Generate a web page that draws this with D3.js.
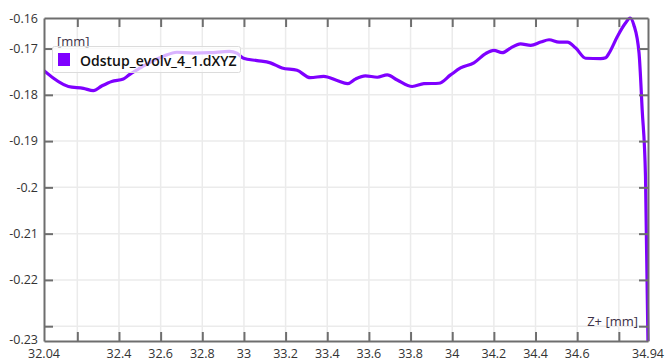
<!DOCTYPE html>
<html>
<head>
<meta charset="utf-8">
<script src="https://cdn.jsdelivr.net/npm/d3@7/dist/d3.min.js"></script>
<style>
  html, body { margin: 0; padding: 0; background: #fff; }
  svg { display: block; font-family: "Open Sans", "Noto Sans", sans-serif; }
</style>
</head>
<body>
<svg id="chart" width="667" height="358"></svg>
<script>
// Data: Z+ [mm] positions and deviation [mm]
const zValues = [32.04, 32.157, 32.229, 32.277, 32.317, 32.365, 32.421, 32.445, 32.502, 32.564,
  32.612, 32.678, 32.756, 32.838, 32.93, 32.966, 32.998, 33.063, 33.127, 33.183, 33.255,
  33.319, 33.383, 33.447, 33.497, 33.535, 33.583, 33.640, 33.688, 33.736, 33.808,
  33.864, 33.936, 33.992, 34.040, 34.104, 34.160, 34.200, 34.240, 34.280, 34.328,
  34.377, 34.425, 34.465, 34.513, 34.553, 34.593, 34.641, 34.713, 34.737, 34.753,
  34.793, 34.832, 34.854, 34.872, 34.897, 34.912, 34.928, 34.94];
const devValues = [-0.1748, -0.1782, -0.1786, -0.1791, -0.1781, -0.1771, -0.1766, -0.1758, -0.1742, -0.1726,
  -0.1717, -0.1708, -0.1710, -0.1709, -0.1706, -0.1710, -0.1721, -0.1726, -0.1731, -0.1742, -0.1747,
  -0.1763, -0.1760, -0.1769, -0.1776, -0.1766, -0.1759, -0.1762, -0.1757, -0.1768, -0.1782,
  -0.1776, -0.1775, -0.1757, -0.1742, -0.1731, -0.1711, -0.1704, -0.1709, -0.1699, -0.1690,
  -0.1693, -0.1686, -0.1681, -0.1686, -0.1686, -0.1699, -0.1721, -0.1722, -0.1720, -0.1710,
  -0.1674, -0.1645, -0.1634, -0.1649, -0.1710, -0.1832, -0.1977, -0.2340];
const seriesName = "Odstup_evolv_4_1.dXYZ";
const xDomain = [32.04, 34.94];
const yDomain = [-0.2332, -0.1634];
const xTicks = [32.2, 32.4, 32.6, 32.8, 33, 33.2, 33.4, 33.6, 33.8, 34, 34.2, 34.4, 34.6, 34.8];
const xTickLabels = ["", "32.4", "32.6", "32.8", "33", "33.2", "33.4", "33.6", "33.8", "34", "34.2", "34.4", "34.6", ""];
const xEndLabels = ["32.04", "34.94"];
const yTicks = [-0.17, -0.18, -0.19, -0.2, -0.21, -0.22, -0.23];
const yTickLabels = ["-0.17", "-0.18", "-0.19", "-0.2", "-0.21", "-0.22", ""];
const yEndLabels = ["-0.23", "-0.16"];
const yUnit = "[mm]";
const xUnit = "Z+ [mm]";

const svg = d3.select("#chart");
const L = 44, R = 648, T = 18, B = 341;
const x = d3.scaleLinear().domain(xDomain).range([L, R]);
const y = d3.scaleLinear().domain(yDomain).range([B, T]);

const axisColor = "#6e6e6e";
const textColor = "#333";

// gridlines
const grid = svg.append("g");
grid.selectAll("line.vx").data(xTicks).join("line")
  .attr("x1", d => x(d)).attr("x2", d => x(d)).attr("y1", T).attr("y2", B)
  .attr("stroke", "#ebebeb").attr("stroke-width", 1.5);
grid.selectAll("line.hy").data(yTicks).join("line")
  .attr("x1", L).attr("x2", R).attr("y1", d => y(d)).attr("y2", d => y(d))
  .attr("stroke", "#ebebeb").attr("stroke-width", 1.5);

// clip
svg.append("clipPath").attr("id", "clip").append("rect")
  .attr("x", L).attr("y", T - 2).attr("width", R - L + 2).attr("height", B - T + 2);

// line
const data = zValues.map((z, i) => [z, devValues[i]]);
svg.append("path").datum(data)
  .attr("clip-path", "url(#clip)")
  .attr("fill", "none").attr("stroke", "#7f00ff").attr("stroke-width", 3.2)
  .attr("stroke-linejoin", "round").attr("stroke-linecap", "round")
  .attr("d", d3.line().x(d => x(d[0])).y(d => y(d[1])).curve(d3.curveMonotoneX));

// axes with inside ticks
const bottomAxis = d3.axisBottom(x).tickValues(xTicks).tickSizeInner(-9).tickSizeOuter(0).tickFormat(() => "");
const topAxis = d3.axisTop(x).tickValues(xTicks).tickSizeInner(-9).tickSizeOuter(0).tickFormat(() => "");
const leftAxis = d3.axisLeft(y).tickValues(yTicks).tickSizeInner(-9).tickSizeOuter(0).tickFormat(() => "");
const rightAxis = d3.axisRight(y).tickValues(yTicks).tickSizeInner(-9).tickSizeOuter(0).tickFormat(() => "");

function styleAxis(g) {
  g.selectAll("path, line").attr("stroke", axisColor).attr("stroke-width", 2);
}
svg.append("g").attr("transform", `translate(0,${B})`).call(bottomAxis).call(styleAxis);
svg.append("g").attr("transform", `translate(0,${T})`).call(topAxis).call(styleAxis);
svg.append("g").attr("transform", `translate(${L},0)`).call(leftAxis).call(styleAxis);
svg.append("g").attr("transform", `translate(${R},0)`).call(rightAxis).call(styleAxis);

// tick labels
const fs = 12.5;
svg.append("g").selectAll("text").data(xTicks).join("text")
  .attr("x", d => x(d)).attr("y", 357.5)
  .attr("text-anchor", "middle").attr("font-size", fs).attr("fill", textColor)
  .text((d, i) => xTickLabels[i]);
svg.append("g").selectAll("text").data(xDomain).join("text")
  .attr("x", d => x(d)).attr("y", 357.5)
  .attr("text-anchor", "middle").attr("font-size", fs).attr("fill", textColor)
  .text((d, i) => xEndLabels[i]);
svg.append("g").selectAll("text").data(yTicks).join("text")
  .attr("x", 38).attr("y", d => y(d)).attr("dy", "0.35em")
  .attr("text-anchor", "end").attr("font-size", fs).attr("fill", textColor)
  .text((d, i) => yTickLabels[i]);
svg.append("g").selectAll("text").data(yDomain).join("text")
  .attr("x", 38).attr("y", (d, i) => y(d) + (i === 0 ? -1 : 1)).attr("dy", "0.35em")
  .attr("text-anchor", "end").attr("font-size", fs).attr("fill", textColor)
  .text((d, i) => yEndLabels[i]);

// unit labels
svg.append("text").attr("x", 57).attr("y", 46).attr("font-size", 13).attr("fill", "#3b3046").text(yUnit);
svg.append("text").attr("x", 638).attr("y", 326).attr("text-anchor", "end")
  .attr("font-size", 13).attr("fill", "#3b3046").text(xUnit);

// legend
const lg = svg.append("g");
lg.append("rect").attr("x", 52.5).attr("y", 46.5).attr("width", 188).attr("height", 26).attr("rx", 2)
  .attr("fill", "#fff").attr("fill-opacity", 0.7).attr("stroke", "#dcdcdc").attr("stroke-width", 1);
lg.append("rect").attr("x", 58).attr("y", 53).attr("width", 12).attr("height", 13).attr("fill", "#7f00ff");
lg.append("text").attr("x", 80).attr("y", 65.5).attr("font-size", 14).attr("font-weight", 600)
  .attr("fill", "#111").text(seriesName);
</script>
</body>
</html>
